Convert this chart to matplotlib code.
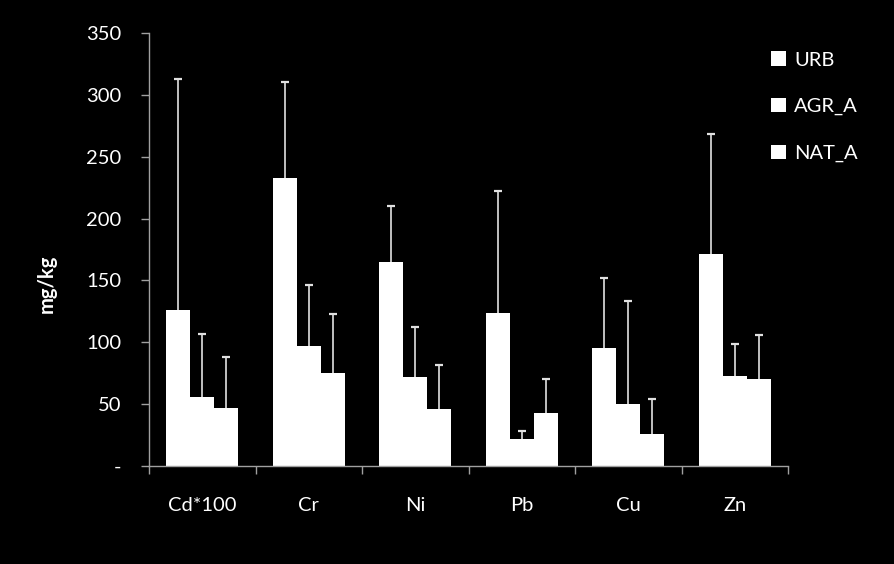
import matplotlib
matplotlib.use("Agg")
import matplotlib.pyplot as plt
import numpy as np

categories = ["Cd*100", "Cr", "Ni", "Pb", "Cu", "Zn"]
series_names = ["URB", "AGR_A", "NAT_A"]
urb = [126, 233, 165, 124, 95, 171]
agr_a = [56, 97, 72, 22, 50, 73]
nat_a = [47, 75, 46, 43, 26, 70]
urb_err = [187, 77, 45, 98, 57, 97]
agr_err = [51, 49, 40, 6, 83, 26]
nat_err = [41, 48, 36, 27, 28, 36]
yticks = [0, 50, 100, 150, 200, 250, 300, 350]
ytick_labels = ["-", "50", "100", "150", "200", "250", "300", "350"]

plt.rcParams['font.family'] = ['Lato', 'DejaVu Sans']

fig = plt.figure(figsize=(8.94, 5.64), dpi=100, facecolor='black')
ax = fig.add_axes([149/894, 1-466/564, (788-149)/894, (466-33)/564])
ax.set_facecolor('black')

x = np.arange(len(categories))
w = 0.225
vals = [urb, agr_a, nat_a]
errs = [urb_err, agr_err, nat_err]
for i, (v, e, name) in enumerate(zip(vals, errs, series_names)):
    pos = x + (i - 1) * w
    v = np.array(v, dtype=float)
    e = np.array(e, dtype=float)
    ax.bar(pos, v, width=w, color='white', edgecolor='none', label=name, zorder=2)
    ax.vlines(pos, v, v + e, colors='#d0d0d0', linewidth=1.3, zorder=3)
    ax.plot(pos, v + e, linestyle='none', marker='_', markersize=6,
            markeredgewidth=1.6, color='#e0e0e0', zorder=3)

ax.set_xlim(-0.5, len(categories) - 0.5)
ax.set_ylim(0, 350)
ax.set_yticks(yticks)
ax.set_yticklabels(ytick_labels)
ax.set_xticks(x)
ax.set_xticklabels(categories)
ax.set_xticks(np.arange(-0.5, len(categories)), minor=True)
ax.tick_params(axis='x', which='major', length=0, pad=22, labelsize=14.5, colors='white')
ax.tick_params(axis='x', which='minor', length=6, color='#a0a0a0', width=1, direction='out')
ax.tick_params(axis='y', length=6, color='#a0a0a0', width=1, pad=14, labelsize=14.5, colors='white')
for s in ['top', 'right']:
    ax.spines[s].set_visible(False)
for s in ['left', 'bottom']:
    ax.spines[s].set_color('#a0a0a0')
    ax.spines[s].set_linewidth(1)

ax.set_ylabel("mg/kg", color='white', fontsize=14.5, fontweight='bold')
ax.yaxis.set_label_coords(-0.145, 0.42)

leg = ax.legend(loc='upper left', bbox_to_anchor=(0.945, 1.0), frameon=False,
                labelcolor='white', fontsize=14.5, handlelength=0.75, handleheight=0.75,
                handletextpad=0.4, labelspacing=1.45)

fig.savefig("out.png", dpi=100, facecolor='black')
